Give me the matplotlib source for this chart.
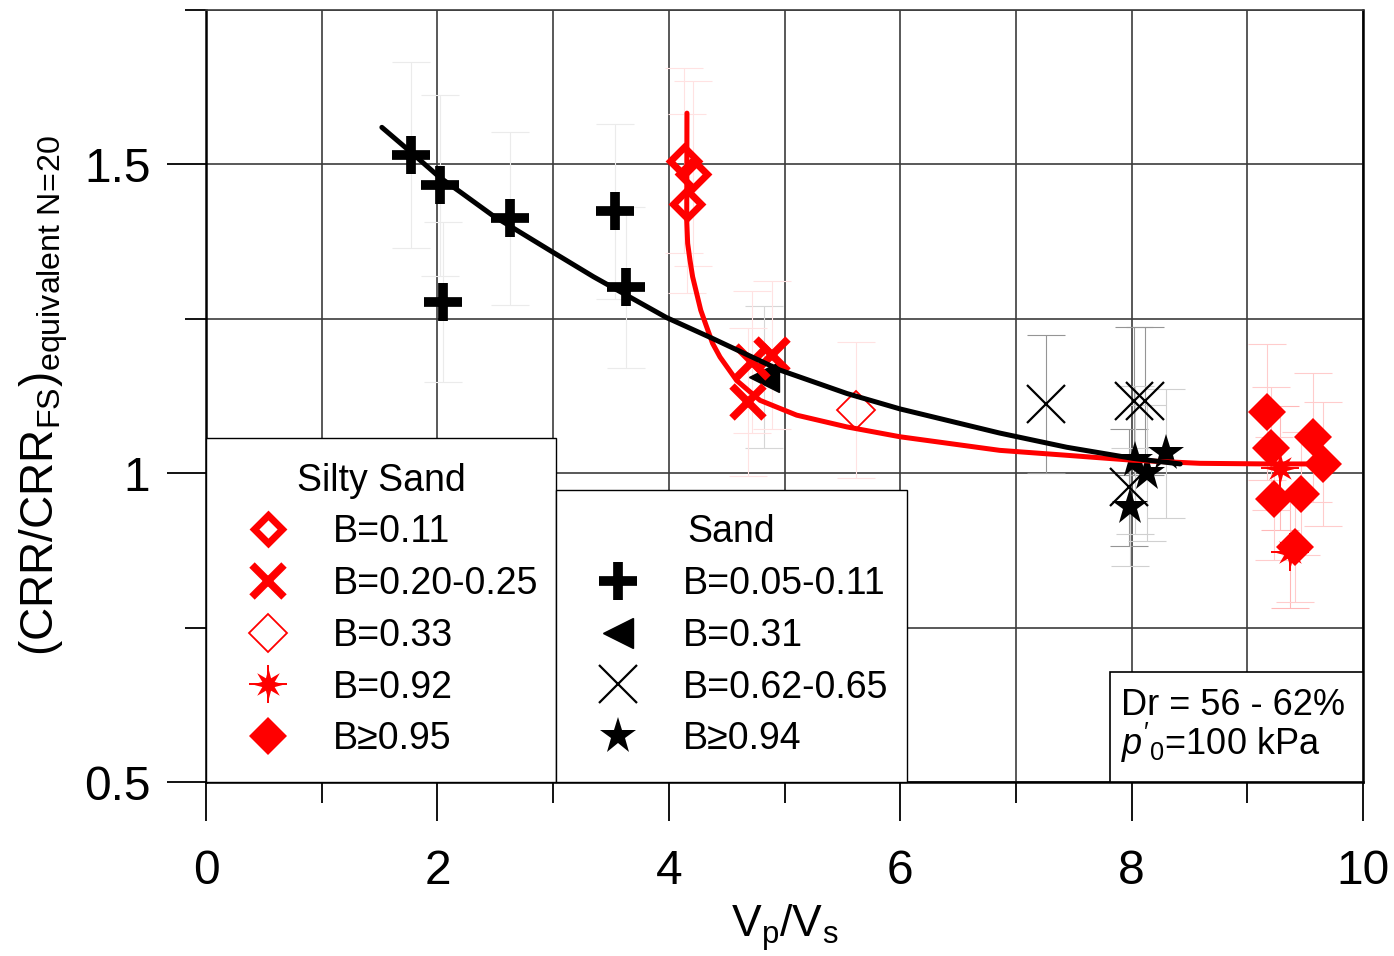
import numpy as np
import matplotlib
matplotlib.use("Agg")
import matplotlib.pyplot as plt
from matplotlib.path import Path
from matplotlib.patches import Rectangle
from matplotlib.legend_handler import HandlerTuple
from matplotlib.ticker import MultipleLocator

plt.rcParams['font.family'] = ['Liberation Sans', 'DejaVu Sans']
plt.rcParams['mathtext.fontset'] = 'custom'
plt.rcParams['mathtext.rm'] = 'Liberation Sans'
plt.rcParams['mathtext.it'] = 'Liberation Sans:italic'
plt.rcParams['mathtext.bf'] = 'Liberation Sans:bold'

# ---------------- data ----------------
x_ticks = [0, 2, 4, 6, 8, 10]
x_tick_labels = ['0', '2', '4', '6', '8', '10']
y_ticks = [0.5, 1.0, 1.5]
y_tick_labels = ['0.5', '1', '1.5']

# Silty sand
ss_b011_x = [4.131, 4.212, 4.155]
ss_b011_y = [1.506, 1.485, 1.436]
ss_b011_err = [0.150, 0.150, 0.145]

ss_b020_x = [4.889, 4.716, 4.682]
ss_b020_y = [1.191, 1.180, 1.115]
ss_b020_err = [0.120, 0.115, 0.120]

ss_b033_x = [5.618]
ss_b033_y = [1.103]
ss_b033_err = [0.110]

ss_b092_x = [9.283, 9.369]
ss_b092_y = [1.008, 0.872]
ss_b092_err = [0.100, 0.090]

ss_b095_x = [9.168, 9.202, 9.571, 9.658, 9.231, 9.461, 9.412]
ss_b095_y = [1.099, 1.040, 1.058, 1.015, 0.959, 0.967, 0.881]
ss_b095_err = [0.110, 0.100, 0.105, 0.100, 0.100, 0.100, 0.090]

# Sand
sd_b005_x = [1.772, 2.022, 2.627, 2.051, 3.535, 3.630]
sd_b005_y = [1.515, 1.466, 1.413, 1.277, 1.424, 1.301]
sd_b005_err = [0.150, 0.147, 0.140, 0.130, 0.142, 0.130]

sd_b031_x = [4.82]
sd_b031_y = [1.155]
sd_b031_err = [0.115]

sd_b062_x = [7.26, 8.02, 8.12, 7.98]
sd_b062_y = [1.112, 1.117, 1.117, 0.977]
sd_b062_err = [0.111, 0.120, 0.120, 0.095]

sd_b094_x = [8.03, 8.30, 8.13, 7.99]
sd_b094_y = [1.021, 1.032, 1.000, 0.945]
sd_b094_err = [0.120, 0.104, 0.110, 0.095]

# trend curves
sand_fit_x = [1.52, 1.77, 2.02, 2.20, 2.48, 2.97, 3.35, 3.98, 4.38, 4.96,
              5.54, 6.00, 6.86, 7.44, 8.01, 8.42]
sand_fit_y = [1.560, 1.520, 1.479, 1.455, 1.417, 1.361, 1.318, 1.252, 1.218,
              1.167, 1.129, 1.104, 1.065, 1.042, 1.024, 1.015]

silty_fit_x = [4.157, 4.156, 4.155, 4.163, 4.183, 4.206, 4.241, 4.276, 4.327,
               4.379, 4.443, 4.587, 4.788, 5.105, 5.538, 5.998, 6.86, 7.44,
               8.01, 8.59, 9.17, 9.55]
silty_fit_y = [1.583, 1.480, 1.409, 1.372, 1.345, 1.318, 1.291, 1.264, 1.237,
               1.210, 1.188, 1.150, 1.118, 1.094, 1.075, 1.059, 1.037, 1.029,
               1.021, 1.016, 1.015, 1.015]

silty_labels = ['B=0.11', 'B=0.20-0.25', 'B=0.33', 'B=0.92', 'B\u22650.95']
sand_labels = ['B=0.05-0.11', 'B=0.31', 'B=0.62-0.65', 'B\u22650.94']

# ---------------- figure ----------------
W, H = 1394, 956
fig = plt.figure(figsize=(W / 100, H / 100), dpi=100)
L, R, T, B = 206, 1363, 10, 782
ax = fig.add_axes([L / W, 1 - B / H, (R - L) / W, (B - T) / H])
ax.set_xlim(0, 10)
ax.set_ylim(0.5, 1.75)

ax.set_xticks(x_ticks)
ax.set_xticklabels(x_tick_labels)
ax.set_yticks(y_ticks)
ax.set_yticklabels(y_tick_labels)
ax.xaxis.set_minor_locator(MultipleLocator(1))
ax.yaxis.set_minor_locator(MultipleLocator(0.25))
ax.set_axisbelow(True)
ax.grid(which='both', color='#3c3c3c', lw=1.2)

ax.tick_params(which='major', direction='out', length=28, width=1.3,
               labelsize=34.5, pad=12, colors='black')
ax.tick_params(which='minor', direction='out', length=15, width=1.3)
ax.tick_params(axis='x', which='major', pad=20)
for side in ['left', 'bottom', 'right']:
    ax.spines[side].set_linewidth(1.8)
    ax.spines[side].set_color('black')
ax.spines['top'].set_linewidth(1.2)
ax.spines['top'].set_color('#3c3c3c')

# error bars
def ebar(x, y, e, col):
    ax.errorbar(x, y, yerr=e, fmt='none', ecolor=col, elinewidth=0.8,
                capsize=13.5, capthick=0.8, zorder=1.5)

ebar(sd_b005_x, sd_b005_y, sd_b005_err, '#ebebeb')
ebar(sd_b031_x, sd_b031_y, sd_b031_err, '#d6d6d6')
ebar(sd_b062_x, sd_b062_y, sd_b062_err, '#959595')
ebar(sd_b094_x, sd_b094_y, sd_b094_err, '#d0d0d0')
ebar(ss_b011_x, ss_b011_y, ss_b011_err, '#ffe2e2')
ebar(ss_b020_x, ss_b020_y, ss_b020_err, '#ffe2e2')
ebar(ss_b033_x, ss_b033_y, ss_b033_err, '#ffe2e2')
ebar(ss_b092_x, ss_b092_y, ss_b092_err, '#ffb8b8')
ebar(ss_b095_x, ss_b095_y, ss_b095_err, '#ffcccc')

red = '#ff0000'
star8 = Path.unit_regular_star(8, 0.42)

# sand markers
h_s005, = ax.plot(sd_b005_x, sd_b005_y, ls='none', marker='+', ms=28, mew=7,
                  color='black', zorder=3)
h_s031, = ax.plot(sd_b031_x, sd_b031_y, ls='none', marker='<', ms=22,
                  color='black', zorder=3)
h_s062, = ax.plot(sd_b062_x, sd_b062_y, ls='none', marker='x', ms=27, mew=1.6,
                  color='black', zorder=3)
h_s094, = ax.plot(sd_b094_x, sd_b094_y, ls='none', marker='*', ms=28,
                  color='black', mew=0, zorder=3)

# silty sand markers
h_011, = ax.plot(ss_b011_x, ss_b011_y, ls='none', marker='D', ms=14, mew=5,
                 mfc='none', mec=red, zorder=3)
h_020, = ax.plot(ss_b020_x, ss_b020_y, ls='none', marker='x', ms=23, mew=5.5,
                 color=red, zorder=3)
h_033, = ax.plot(ss_b033_x, ss_b033_y, ls='none', marker='D', ms=19, mew=1.3,
                 mfc='none', mec=red, zorder=3)
h_092a, = ax.plot(ss_b092_x, ss_b092_y, ls='none', marker='+', ms=27, mew=1.4,
                  color=red, zorder=3)
h_092b, = ax.plot(ss_b092_x, ss_b092_y, ls='none', marker=star8, ms=23, mew=0,
                  color=red, zorder=3)
h_095, = ax.plot(ss_b095_x, ss_b095_y, ls='none', marker='D', ms=19.5, mew=0,
                 color=red, zorder=3)

# trend curves
ax.plot(silty_fit_x, silty_fit_y, color=red, lw=3.6, solid_capstyle='round',
        solid_joinstyle='round', zorder=4)
ax.plot(sand_fit_x, sand_fit_y, color='black', lw=3.6, solid_capstyle='round',
        solid_joinstyle='round', zorder=4.1)

# axis labels
ax.set_xlabel(r'V$_{\mathregular{p}}$/V$_{\mathregular{s}}$', fontsize=32,
              labelpad=6)
ax.set_ylabel(r'(CRR/CRR$_{\mathregular{FS}}$)$_{\mathregular{equivalent\ N\!=\!20}}$',
              fontsize=33, labelpad=10)

# legends
fs_leg = 27
common = dict(loc='lower left', mode='expand', borderaxespad=0, fontsize=fs_leg,
              title_fontsize=fs_leg, frameon=True, fancybox=False,
              edgecolor='black', framealpha=1, borderpad=0.66,
              labelspacing=0.42, handlelength=1.96, handletextpad=0.75,
              handler_map={tuple: HandlerTuple(ndivide=1)})
w1 = (556 - L) / (R - L)
w2 = (907 - 556) / (R - L)
leg1 = ax.legend([h_011, h_020, h_033, (h_092a, h_092b), h_095], silty_labels,
                 title='Silty Sand', bbox_to_anchor=(0, 0, w1, 1), **common)
leg1.get_frame().set_linewidth(1.0)
ax.add_artist(leg1)
leg2 = ax.legend([h_s005, h_s031, h_s062, h_s094], sand_labels,
                 title='Sand', bbox_to_anchor=(w1, 0, w2, 1), **common)
leg2.get_frame().set_linewidth(1.0)

# annotation box
bx0 = (1110 - L) / (R - L)
bh = (782 - 672) / (B - T)
ax.add_patch(Rectangle((bx0, 0), 1 - bx0, bh, transform=ax.transAxes,
                       fc='white', ec='black', lw=1.2, zorder=7, clip_on=False))
tx = (1121 - L) / (R - L)
ax.text(tx, (782 - 715) / (B - T), 'Dr = 56 - 62%', transform=ax.transAxes,
        fontsize=26, ha='left', va='baseline', zorder=8)
ax.text(tx, (782 - 755) / (B - T), r"$p'_{0}$=100 kPa", transform=ax.transAxes,
        fontsize=26, ha='left', va='baseline', zorder=8)

fig.savefig('out.png', dpi=100)
